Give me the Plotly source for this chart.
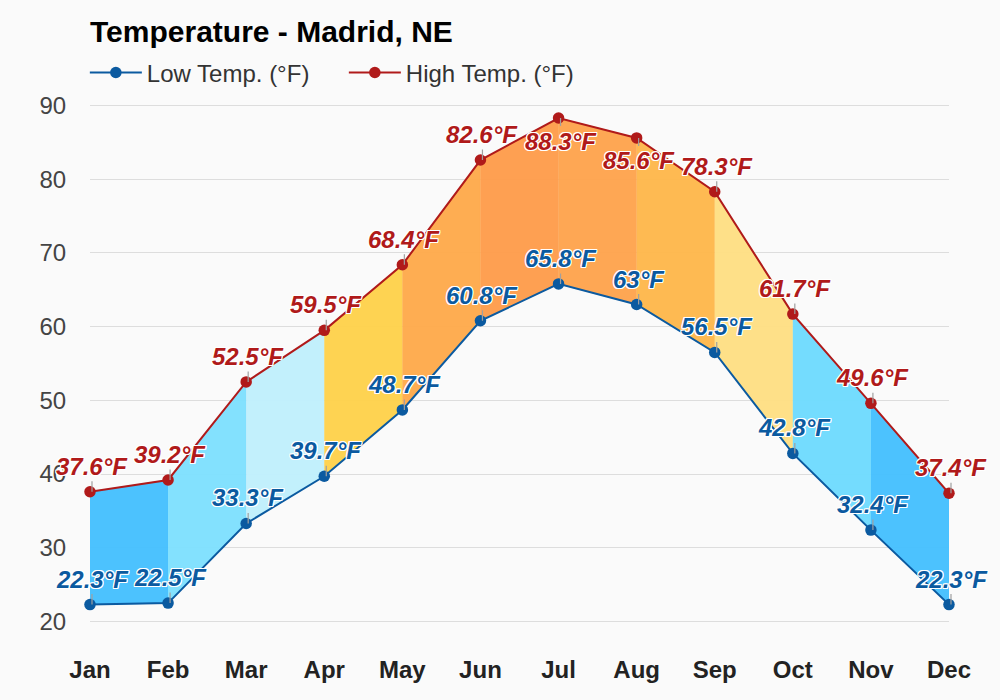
"""Monthly temperature range chart for Madrid, NE."""

import plotly.graph_objects as go

MONTHS = ["Jan", "Feb", "Mar", "Apr", "May", "Jun", "Jul", "Aug", "Sep", "Oct", "Nov", "Dec"]
LOW_TEMP = [22.3, 22.5, 33.3, 39.7, 48.7, 60.8, 65.8, 63, 56.5, 42.8, 32.4, 22.3]
HIGH_TEMP = [37.6, 39.2, 52.5, 59.5, 68.4, 82.6, 88.3, 85.6, 78.3, 61.7, 49.6, 37.4]
BAND_COLORS = [
    "#47c1ff", "#80e1ff", "#c1f0fd", "#ffd24d", "#ffab4d", "#ff9e4d",
    "#ffa54f", "#ffb84d", "#ffe085", "#70dcff", "#47c1ff",
]
Y_TICKS = [20, 30, 40, 50, 60, 70, 80, 90]

LOW_COLOR = "#0b5aa0"
HIGH_COLOR = "#b01a1a"
LABEL_HALO = (
    "-1px -1px 0 #fff, 1px -1px 0 #fff, -1px 1px 0 #fff, 1px 1px 0 #fff, "
    "0 -1px 0 #fff, 0 1px 0 #fff, -1px 0 0 #fff, 1px 0 0 #fff"
)
FONT = "Liberation Sans"

# high labels that sit under their point, the peak would run off the plot otherwise
HIGH_LABELS_BELOW = {"Jul", "Aug"}

fig = go.Figure()

# one filled band per month pair
for i, color in enumerate(BAND_COLORS):
    fig.add_trace(
        go.Scatter(
            x=[MONTHS[i], MONTHS[i + 1], MONTHS[i + 1], MONTHS[i]],
            y=[HIGH_TEMP[i], HIGH_TEMP[i + 1], LOW_TEMP[i + 1], LOW_TEMP[i]],
            mode="lines",
            line=dict(width=0.6, color=color),
            fill="toself",
            fillcolor=color,
            opacity=0.97,
            showlegend=False,
            hoverinfo="skip",
        )
    )

for name, values, color in [
    ("Low Temp. (°F)", LOW_TEMP, LOW_COLOR),
    ("High Temp. (°F)", HIGH_TEMP, HIGH_COLOR),
]:
    fig.add_trace(
        go.Scatter(
            x=MONTHS,
            y=values,
            name=name,
            mode="lines+markers",
            line=dict(color=color, width=2),
            marker=dict(color=color, size=11.5),
            cliponaxis=False,
        )
    )


def add_labels(values, color, below=()):
    for month, value in zip(MONTHS, values):
        fig.add_annotation(
            x=month,
            y=value,
            text=f"{value:g}°F",
            showarrow=True,
            arrowhead=0,
            arrowwidth=1.2,
            arrowcolor="#a0a0a0",
            standoff=0,
            ax=0,
            ay=23 if month in below else -25.5,
            xshift=2,
            font=dict(family=FONT, size=24, color=color, weight=700, style="italic", shadow=LABEL_HALO),
        )


add_labels(LOW_TEMP, LOW_COLOR)
add_labels(HIGH_TEMP, HIGH_COLOR, below=HIGH_LABELS_BELOW)

fig.update_xaxes(
    type="category",
    categoryorder="array",
    categoryarray=MONTHS,
    range=[0, 11],
    showgrid=False,
    showline=False,
    zeroline=False,
    ticks="outside",
    ticklen=25,
    tickcolor="rgba(0,0,0,0)",
    tickfont=dict(family=FONT, size=24, color="#222222", weight=700),
)
# range a touch wider than 20-90, plotly drops gridlines sitting on the plot edge
fig.update_yaxes(
    range=[19.8, 90.2],
    tickvals=Y_TICKS,
    gridcolor="#dddddd",
    gridwidth=1,
    showline=False,
    zeroline=False,
    ticks="outside",
    ticklen=18,
    tickcolor="rgba(0,0,0,0)",
    tickfont=dict(family=FONT, size=24, color="#444444"),
)
fig.update_layout(
    width=1000,
    height=700,
    margin=dict(l=90.3, r=50.7, t=103.8, b=77.2),
    paper_bgcolor="#fafafa",
    plot_bgcolor="#fafafa",
    font=dict(family=FONT),
    title=dict(
        text="Temperature - Madrid, NE",
        font=dict(family=FONT, size=30, color="#000000", weight=700),
        x=0.09,
        xanchor="left",
        y=0.955,
        yanchor="middle",
    ),
    legend=dict(
        orientation="h",
        x=-0.006,
        xanchor="left",
        y=1.06,
        yanchor="middle",
        itemwidth=52,
        entrywidth=192,
        entrywidthmode="pixels",
        font=dict(family=FONT, size=24, color="#333333"),
        bgcolor="rgba(0,0,0,0)",
    ),
    hovermode="closest",
)

fig.write_html(
    "out.html",
    config=dict(displayModeBar=False),
    post_script="document.body.style.margin = '0';",
)
